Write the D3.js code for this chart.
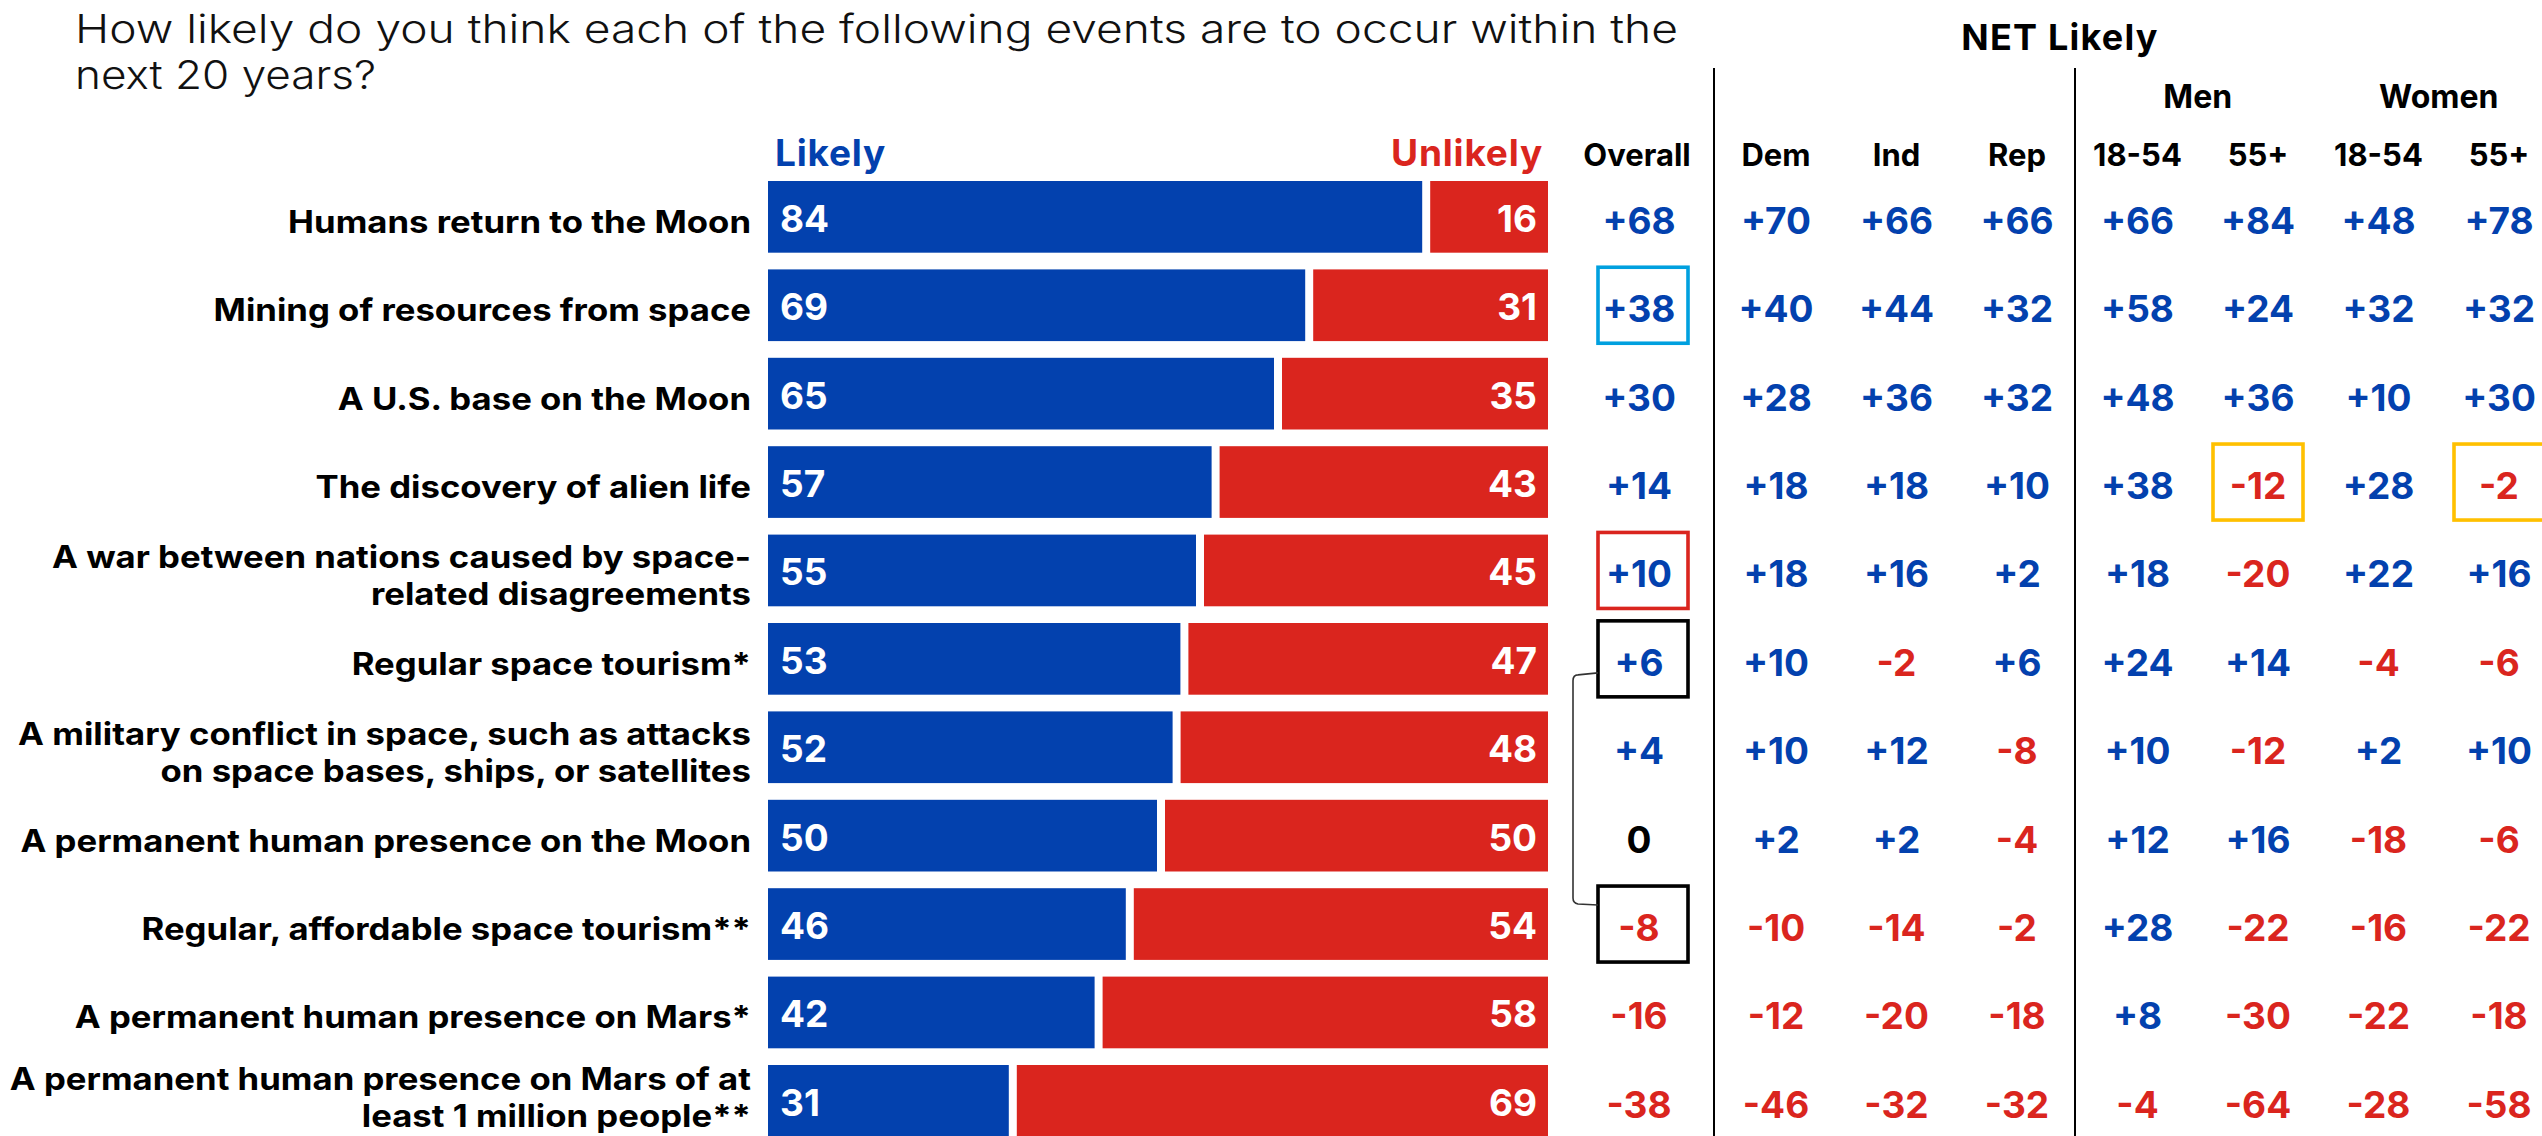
<!DOCTYPE html>
<html><head><meta charset="utf-8">
<script src="https://cdn.jsdelivr.net/npm/d3@7"></script>
<style>
html,body{margin:0;padding:0;background:#fff;}
svg{display:block;}
text{font-family:Inter,"Open Sans",sans-serif;}
</style></head><body>
<svg id="chart" width="2542" height="1136"></svg>
<script>
// ---------- DATA ----------
const titleLines = ["How likely do you think each of the following events are to occur within the", "next 20 years?"];
const categories = [
  ["Humans return to the Moon"],
  ["Mining of resources from space"],
  ["A U.S. base on the Moon"],
  ["The discovery of alien life"],
  ["A war between nations caused by space-", "related disagreements"],
  ["Regular space tourism*"],
  ["A military conflict in space, such as attacks", "on space bases, ships, or satellites"],
  ["A permanent human presence on the Moon"],
  ["Regular, affordable space tourism**"],
  ["A permanent human presence on Mars*"],
  ["A permanent human presence on Mars of at", "least 1 million people**"]
];
const likely   = [84, 69, 65, 57, 55, 53, 52, 50, 46, 42, 31];
const unlikely = [16, 31, 35, 43, 45, 47, 48, 50, 54, 58, 69];
const overall  = [68, 38, 30, 14, 10, 6, 4, 0, -8, -16, -38];
const dem      = [70, 40, 28, 18, 18, 10, 10, 2, -10, -12, -46];
const ind      = [66, 44, 36, 18, 16, -2, 12, 2, -14, -20, -32];
const rep      = [66, 32, 32, 10, 2, 6, -8, -4, -2, -18, -32];
const men1854  = [66, 58, 48, 38, 18, 24, 10, 12, 28, 8, -4];
const men55    = [84, 24, 36, -12, -20, 14, -12, 16, -22, -30, -64];
const women1854= [48, 32, 10, 28, 22, -4, 2, -18, -16, -22, -28];
const women55  = [78, 32, 30, -2, 16, -6, 10, -6, -22, -18, -58];
const columnLabels = ["Overall", "Dem", "Ind", "Rep", "18-54", "55+", "18-54", "55+"];
const groupLabels = ["Men", "Women"];
const barLegend = ["Likely", "Unlikely"];
const netTitle = "NET Likely";
// highlighted cells: [row, column]
const highlightCells = [[1, 0], [4, 0], [5, 0], [8, 0], [3, 5], [3, 7]];
const highlightKinds = ["cyan", "red", "black", "black", "gold", "gold"];

// ---------- STYLE ----------
const BLUE = "#0341AE", RED = "#DA251E";
const boxColor = {cyan: "#00A0DF", red: "#DA251E", black: "#000000", gold: "#FFC000"};
const netSeries = [overall, dem, ind, rep, men1854, men55, women1854, women55];

const W = 2542, H = 1136;
const svg = d3.select("#chart");
const n = likely.length;

const y = d3.scaleBand().domain(d3.range(n)).range([181, 1136.7]).paddingInner(0.189).paddingOuter(0);
const x = d3.scaleLinear().domain([0, 100]).range([768, 1548]);
const colX = d3.scalePoint().domain(d3.range(1, 8)).range([1776, 2499]);
const cx = i => i === 0 ? 1639 : colX(i);
const mid = i => y(i) + y.bandwidth() / 2;
const GAP = 8;

// title
const titleWidths = [1603, 301];
svg.append("g").selectAll("text").data(titleLines).join("text")
  .attr("x", 75).attr("y", (d, i) => 43 + i * 46)
  .attr("font-family", "'Open Sans', sans-serif")
  .attr("font-weight", 300).attr("font-size", 39).attr("fill", "#111")
  .attr("textLength", (d, i) => titleWidths[i]).attr("lengthAdjust", "spacingAndGlyphs")
  .text(d => d);

// category labels (horizontally widened to match the wide original face)
const catG = svg.append("g").attr("transform", "translate(751,0) scale(1.12,1)");
catG.selectAll("text").data(categories).join("text")
  .attr("text-anchor", "end").attr("font-weight", 700).attr("font-size", 31).attr("fill", "#000")
  .each(function(lines, i) {
    const t = d3.select(this);
    const shift = Math.min(0, (H - 9) - (mid(i) + 16 + (lines.length - 1) / 2 * 37));
    lines.forEach((l, j) => {
      t.append("tspan").attr("x", 0)
        .attr("y", mid(i) + 16 + shift + (j - (lines.length - 1) / 2) * 37)
        .text(l);
    });
  });

// bars
const bars = svg.append("g");
bars.selectAll("rect.l").data(likely).join("rect").attr("class", "l")
  .attr("x", x(0)).attr("y", (d, i) => y(i))
  .attr("width", d => x(d) - x(0) - 1).attr("height", y.bandwidth()).attr("fill", BLUE);
bars.selectAll("rect.u").data(unlikely).join("rect").attr("class", "u")
  .attr("x", d => x(100 - d) + GAP - 1).attr("y", (d, i) => y(i))
  .attr("width", d => x(100) - x(100 - d) - GAP + 1).attr("height", y.bandwidth()).attr("fill", RED);
bars.selectAll("text.l").data(likely).join("text").attr("class", "l")
  .attr("x", x(0) + 12).attr("y", (d, i) => mid(i) + 15)
  .attr("fill", "#fff").attr("font-weight", 700).attr("font-size", 37).text(d => d);
bars.selectAll("text.u").data(unlikely).join("text").attr("class", "u")
  .attr("x", x(100) - 11).attr("y", (d, i) => mid(i) + 15)
  .attr("text-anchor", "end")
  .attr("fill", "#fff").attr("font-weight", 700).attr("font-size", 37).text(d => d);

// legend headers
svg.append("text").attr("x", 775).attr("y", 166).attr("fill", BLUE)
  .attr("font-weight", 700).attr("font-size", 37).attr("letter-spacing", 0.8).text(barLegend[0]);
svg.append("text").attr("x", 1543).attr("y", 166).attr("fill", RED).attr("text-anchor", "end")
  .attr("font-weight", 700).attr("font-size", 37).attr("letter-spacing", 0.8).text(barLegend[1]);

// NET headers
svg.append("text").attr("x", 2060).attr("y", 50).attr("text-anchor", "middle")
  .attr("font-weight", 700).attr("font-size", 36).attr("letter-spacing", 1.2).attr("fill", "#000").text(netTitle);
svg.append("g").selectAll("text").data(groupLabels).join("text")
  .attr("x", (d, i) => (cx(4 + 2 * i) + cx(5 + 2 * i)) / 2).attr("y", 108)
  .attr("text-anchor", "middle").attr("font-weight", 700).attr("font-size", 32).text(d => d);
svg.append("g").selectAll("text").data(columnLabels).join("text")
  .attr("x", (d, i) => i === 0 ? 1637 : cx(i)).attr("y", 166)
  .attr("text-anchor", "middle").attr("font-weight", 700).attr("font-size", 31).text(d => d);

// dividers
svg.append("g").selectAll("line").data([1714, 2075]).join("line")
  .attr("x1", d => d).attr("x2", d => d).attr("y1", 68).attr("y2", H)
  .attr("stroke", "#000").attr("stroke-width", 2);

// net values
const fmt = v => v > 0 ? "+" + v : String(v);
const colorOf = v => v > 0 ? BLUE : v < 0 ? RED : "#000";
netSeries.forEach((series, ci) => {
  svg.append("g").selectAll("text").data(series).join("text")
    .attr("x", cx(ci)).attr("y", (d, i) => mid(i) + 17)
    .attr("text-anchor", "middle").attr("font-weight", 700).attr("font-size", 37)
    .attr("fill", colorOf).text(fmt);
});

// highlight boxes
svg.append("g").selectAll("rect").data(highlightCells).join("rect")
  .attr("x", d => cx(d[1]) + (d[1] === 0 ? 4 : 0) - 45)
  .attr("y", d => mid(d[0]) - 38)
  .attr("width", 90).attr("height", 76)
  .attr("fill", "none").attr("stroke", (d, i) => boxColor[highlightKinds[i]])
  .attr("stroke-width", 3.6);

// bracket linking the two tourism rows
const r1 = mid(5) + 14, r2 = mid(8) - 20;
const bx = cx(0) + 4 - 45;
svg.append("path")
  .attr("d", `M${bx},${r1} L${bx - 20},${r1 + 2} Q${bx - 25},${r1 + 2} ${bx - 25},${r1 + 8} L${bx - 25},${r2 - 6} Q${bx - 25},${r2 - 1} ${bx - 20},${r2} L${bx},${r2 + 1}`)
  .attr("fill", "none").attr("stroke", "#333").attr("stroke-width", 1.6);
</script>
</body></html>
